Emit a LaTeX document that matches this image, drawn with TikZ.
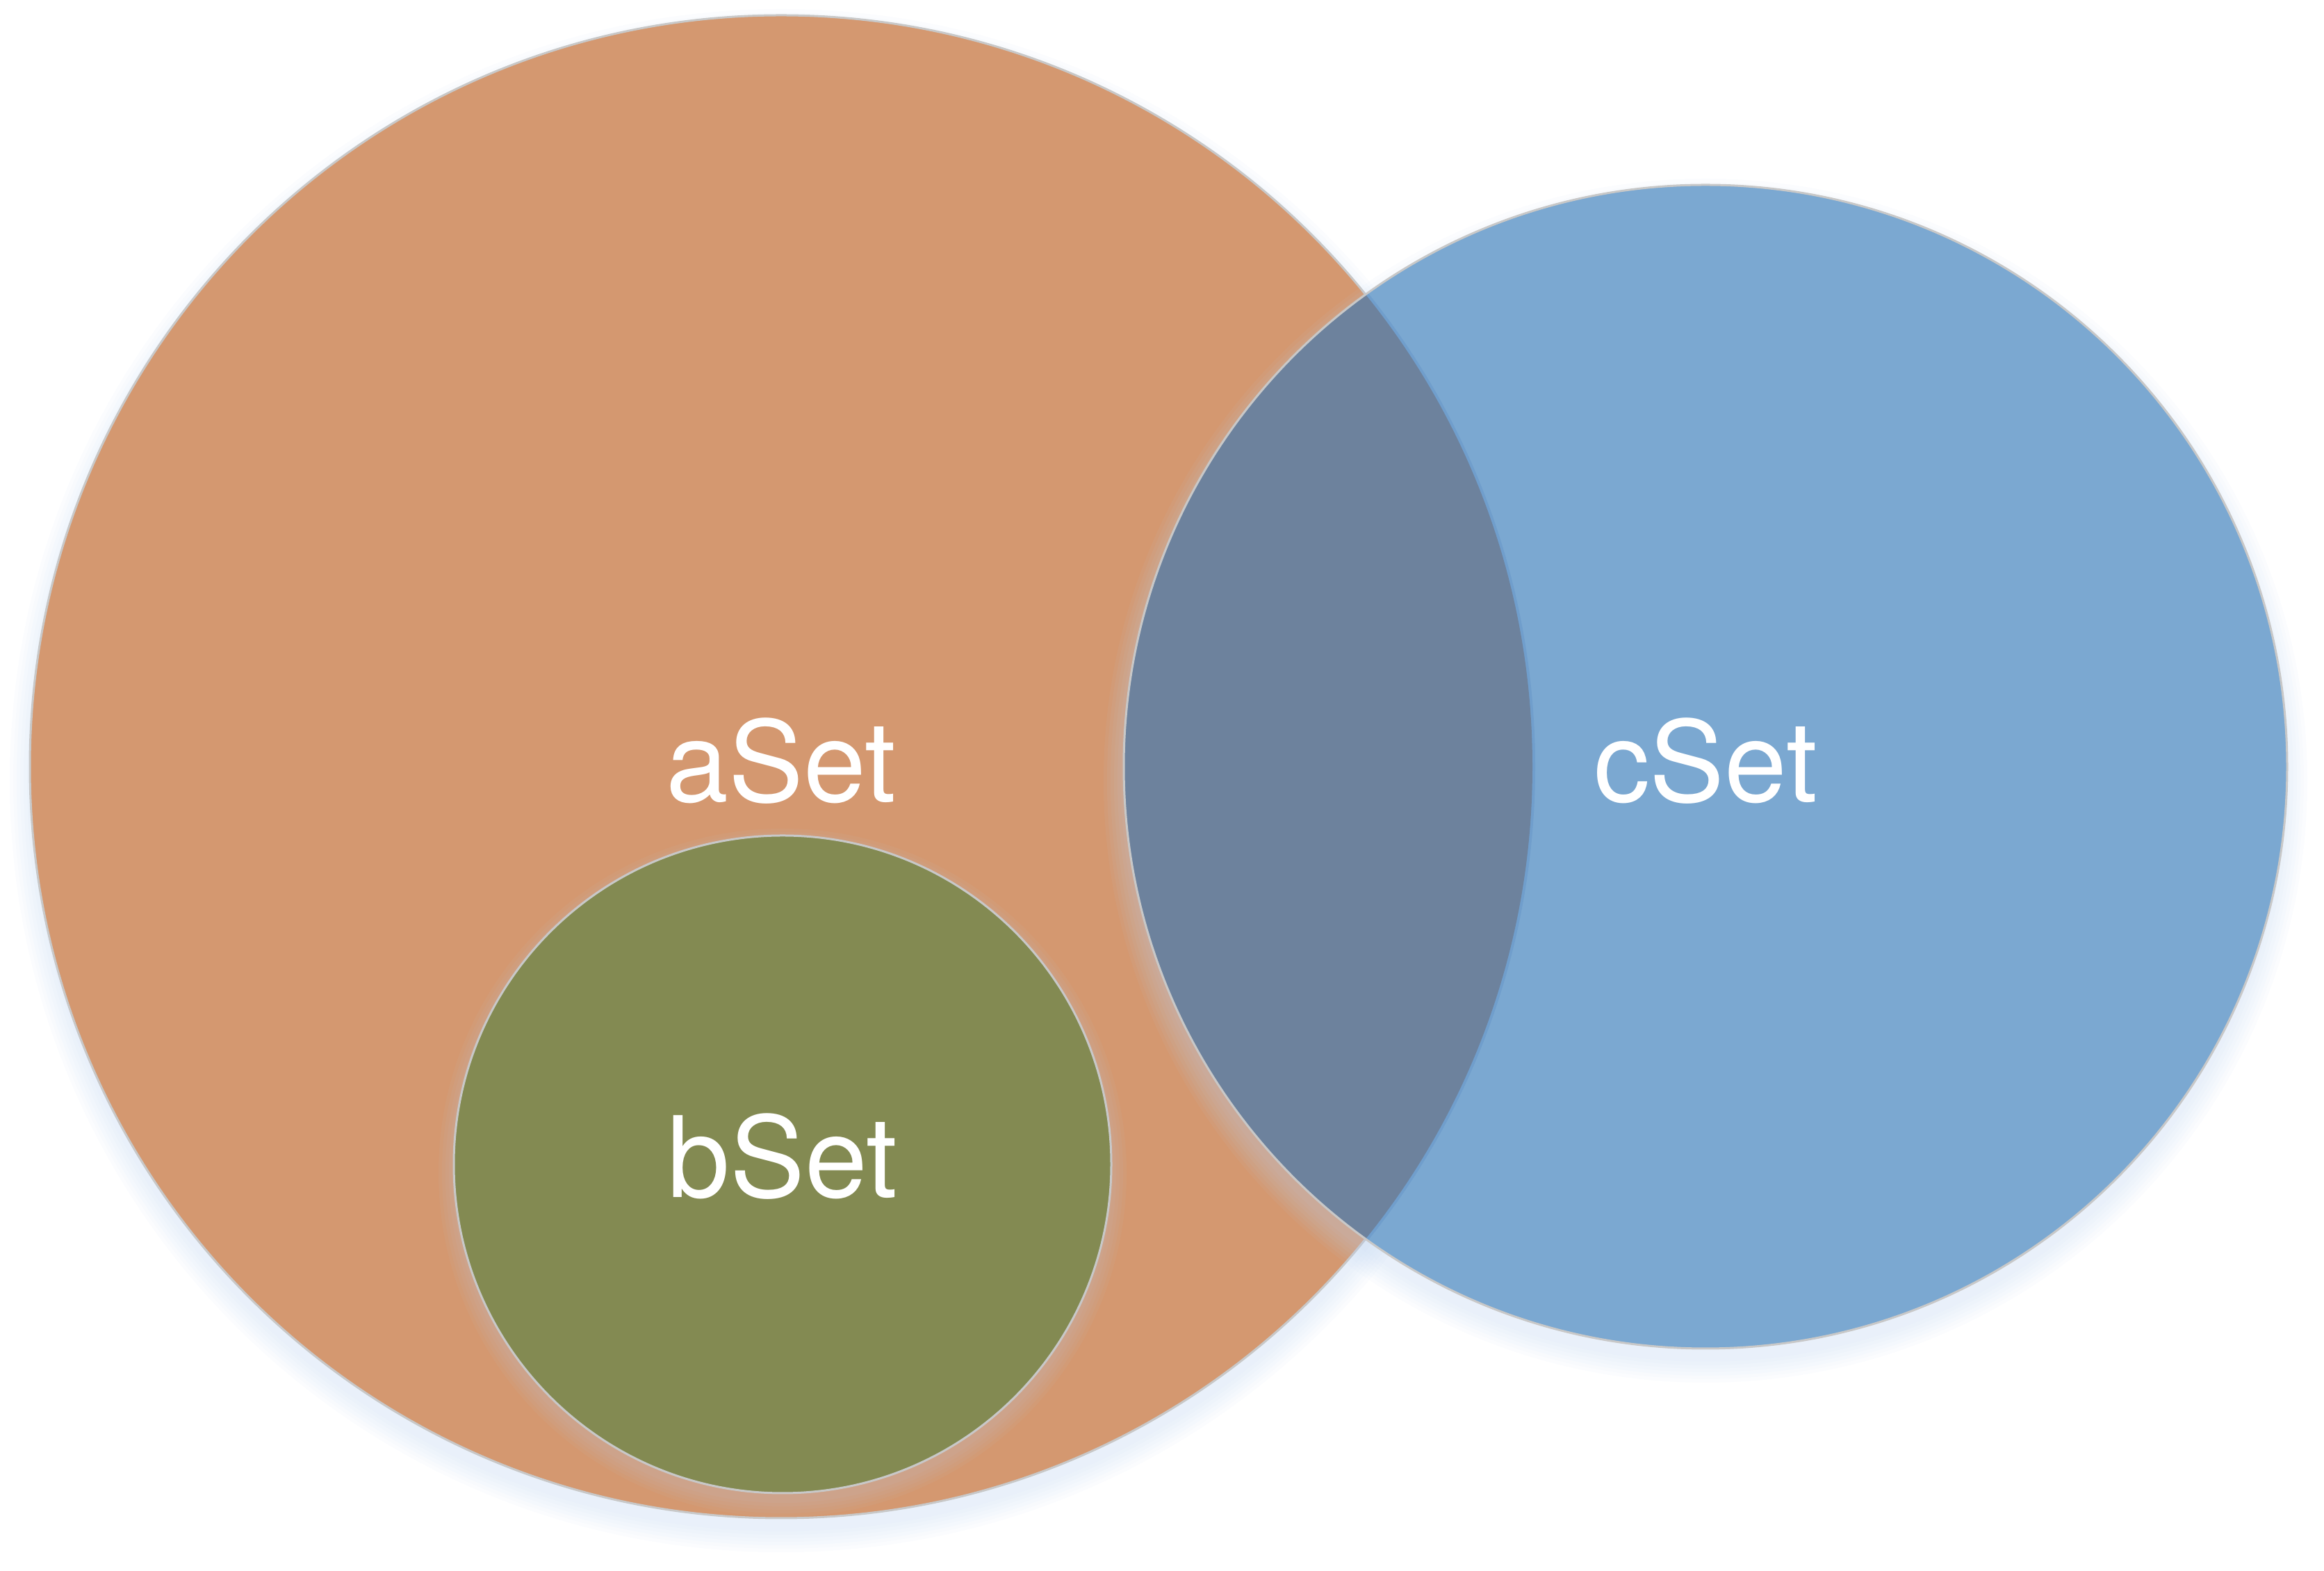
\documentclass[tikz,border=0pt]{standalone}
\usepackage{fontspec}
\setmainfont{TeX Gyre Heros}
\usetikzlibrary{positioning}
\definecolor{aorange}{RGB}{212,152,112}
\definecolor{cblue}{RGB}{123,168,209}
\definecolor{bgreen}{RGB}{131,138,82}
\definecolor{acmix}{RGB}{109,130,157}
\definecolor{rimgray}{RGB}{200,200,200}
\definecolor{shadowblue}{RGB}{190,212,240}
\definecolor{arcblue}{RGB}{112,158,204}
\tikzset{
  rim/.style={draw=rimgray,line width=0.03cm},
  setlabel/.style={text=white,font=\fontsize{46}{55}\selectfont,inner sep=0pt,anchor=base},
}

\begin{document}
\begin{tikzpicture}
\useasboundingbox (0,0) rectangle (33.44,22.60);
% centres of the three sets
\coordinate (ca) at (11.24,11.57);
\coordinate (cb) at (11.26,5.85);
\coordinate (cc) at (24.54,11.57);
%
% aSet
\foreach \i in {1,...,7}
  \fill[shadowblue,opacity=0.06] ([yshift=-0.2cm]ca) circle[radius=10.75+0.05*\i];
\path[fill=aorange,rim] (ca) circle[radius=10.81];
%
% bSet
\foreach \i in {1,...,5}
  \fill[shadowblue,opacity=0.05] ([yshift=-0.12cm]cb) circle[radius=4.70+0.05*\i];
\path[fill=bgreen,rim] (cb) circle[radius=4.73];
%
% cSet and the overlap with aSet
\foreach \i in {1,...,7}
  \fill[shadowblue,opacity=0.06] ([yshift=-0.2cm]cc) circle[radius=8.31+0.05*\i];
\fill[cblue] (cc) circle[radius=8.37];
\begin{scope}
  \clip (cc) circle[radius=8.37];
  \draw[arcblue,line width=0.08cm] (ca) circle[radius=10.81];
  \fill[acmix] (ca) circle[radius=10.81];
\end{scope}
\draw[rim] (cc) circle[radius=8.37];
%
\node (alabel) [setlabel] at ([yshift=-0.51cm]ca) {aSet};
\node (blabel) [setlabel] at ([yshift=-0.48cm]cb) {bSet};
\node (clabel) [setlabel] at ([yshift=-0.51cm]cc) {cSet};
\end{tikzpicture}
\end{document}
